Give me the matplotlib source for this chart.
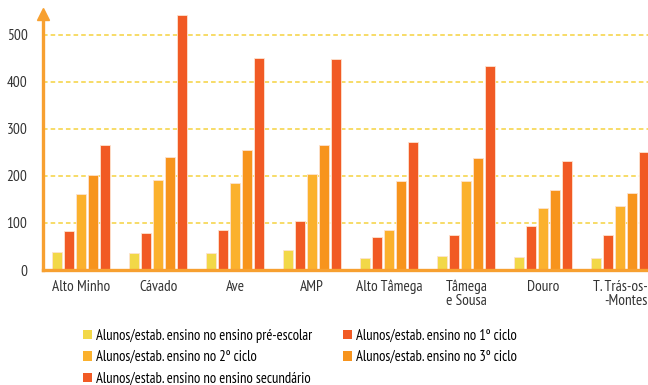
import numpy as np
import matplotlib
matplotlib.use("Agg")
import matplotlib.pyplot as plt
from matplotlib.patches import Patch

plt.rcParams['font.family'] = ['PT Sans Narrow', 'DejaVu Sans']

regions = ["Alto Minho", "Cávado", "Ave", "AMP", "Alto Tâmega",
           "Tâmega\ne Sousa", "Douro", "T. Trás-os-\n-Montes"]

pre_escolar = [39, 37, 37, 42, 25, 30, 28, 26]
ciclo1 = [83, 79, 84, 104, 71, 74, 93, 74]
ciclo2 = [161, 192, 184, 203, 86, 190, 132, 137]
ciclo3 = [202, 240, 254, 265, 190, 239, 171, 164]
secundario = [265, 541, 451, 448, 272, 433, 232, 251]

series = [
    ("Alunos/estab. ensino no ensino pré-escolar", pre_escolar, "#f2d848"),
    ("Alunos/estab. ensino no 1º ciclo", ciclo1, "#f15a24"),
    ("Alunos/estab. ensino no 2º ciclo", ciclo2, "#fbb12d"),
    ("Alunos/estab. ensino no 3º ciclo", ciclo3, "#f7941d"),
    ("Alunos/estab. ensino no ensino secundário", secundario, "#f15a24"),
]

axis_color = "#f7a030"
grid_color = "#f5d23e"
text_color = "#333333"

fig = plt.figure(figsize=(6.48, 3.85), dpi=100)
ax = fig.add_axes([0.066, 0.2987, 0.934, 0.666])

x = np.arange(len(regions))
pitch = 0.156
width = 0.125
for i, (label, vals, color) in enumerate(series):
    ax.bar(x + (i - 2) * pitch, vals, width, color=color,
           edgecolor="#fde3d0", linewidth=0.6, zorder=3)

ax.set_xlim(-0.5, 7.36)
ax.set_ylim(0, 545)

ax.set_yticks([0, 100, 200, 300, 400, 500])
ax.tick_params(axis='y', length=0, pad=11, labelsize=11, labelcolor=text_color)
ax.set_xticks(x)
ax.set_xticklabels(regions, fontsize=11, color=text_color, linespacing=1.0)
ax.tick_params(axis='x', length=0, pad=7)
# last label is right-aligned on two lines
ax.get_xticklabels()[-1].set_multialignment('right')

for yv in [100, 200, 300, 400, 500]:
    ax.axhline(yv, color=grid_color, linestyle=(0, (3, 2)), linewidth=1.1, zorder=1)

for side in ['top', 'right']:
    ax.spines[side].set_visible(False)
for side in ['left', 'bottom']:
    ax.spines[side].set_color(axis_color)
    ax.spines[side].set_linewidth(2.4)
    ax.spines[side].set_zorder(4)

# arrow head on the vertical axis
ax.plot(0, 1.0, marker='^', markersize=8, color=axis_color,
        transform=ax.transAxes, clip_on=False, zorder=5)

handles = [Patch(facecolor=c, edgecolor='none', label=l) for l, _, c in series]
order = [0, 2, 4, 1, 3]
fig.legend([handles[i] for i in order], [series[i][0] for i in order],
           ncol=2, loc='upper left', bbox_to_anchor=(0.128, 0.146),
           frameon=False, fontsize=10.5, handlelength=0.6, handleheight=0.6,
           handletextpad=0.3, columnspacing=2.1, labelspacing=0.5,
           borderpad=0, borderaxespad=0)

fig.savefig("out.png", dpi=100)
